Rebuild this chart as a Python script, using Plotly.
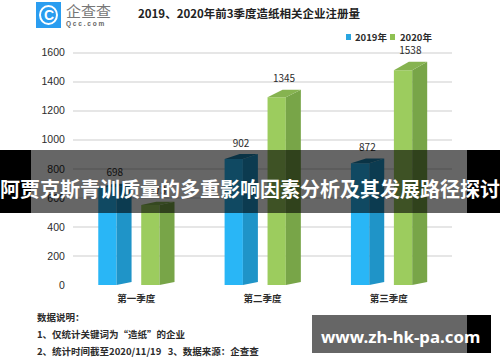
import plotly.graph_objects as go

quarters = ["第一季度", "第二季度", "第三季度"]
values_2019 = [698, 902, 872]
values_2020 = [573, 1345, 1538]
series_names = ["2019年", "2020年"]
y_ticks = [0, 200, 400, 600, 800, 1000, 1200, 1400, 1600]

W, H = 500, 362
CJK = "Noto Sans CJK SC"
INK = "#2b2b2b"
Y_MAX = 1700           # head room so the 1538 label stays inside the axis range
PX0, PX1, PY0 = 73, 452, 285
PY1 = PY0 - (PY0 - 52.7) * Y_MAX / 1600
UNIT = (PX1 - PX0) / 3
BAR_W = 18.3 / UNIT
DEPTH_X = 15 / UNIT
FRONT = 0.962          # front face sits lower than the labelled back edge (3D projection)
FOOT = 20              # back foot of the side face, in value units


def px(x):
    return x / W


def py(y):
    return 1 - y / H


def poly(xs, ys, color):
    return go.Scatter(x=xs, y=ys, mode="lines", fill="toself", fillcolor=color,
                      line=dict(width=0, color=color), hoverinfo="skip", showlegend=False)


fig = go.Figure()
styles = [
    (values_2019, -0.30, "#29b6f6", "#1f94c8", "#1b80ad"),
    (values_2020, 0.04, "#9ccc5e", "#78a548", "#86b350"),
]
for (vals, off, front, side, top), name in zip(styles, series_names):
    for i, v in enumerate(vals):
        x0 = i + off
        x1 = x0 + BAR_W
        f = v * FRONT
        fig.add_trace(poly([x1, x1, x1 + DEPTH_X, x1 + DEPTH_X, x1], [0, f, v, FOOT, 0], side))
        fig.add_trace(poly([x0, x1, x1 + DEPTH_X, x0 + DEPTH_X, x0], [f, f, v, v, f], top))
    fig.add_trace(go.Bar(x=list(range(3)), y=[v * FRONT for v in vals], width=BAR_W,
                         offset=off, marker=dict(color=front, line=dict(width=0)),
                         name=name, showlegend=False, hoverinfo="skip"))
    fig.add_trace(go.Scatter(x=[i + off + BAR_W * 0.9 for i in range(3)],
                             y=[v + 68 for v in vals], mode="text",
                             text=[str(v) for v in vals], cliponaxis=False,
                             textfont=dict(family=CJK, size=10, color=INK),
                             hoverinfo="skip", showlegend=False))

shapes = []


def rect(x0, y0, x1, y1, color):
    shapes.append(dict(type="rect", xref="paper", yref="paper", layer="above",
                       x0=px(x0), x1=px(x1), y0=py(y1), y1=py(y0),
                       fillcolor=color, line=dict(width=0)))


# logo
rect(36, 2, 61, 28, "#2a9df0")
shapes.append(dict(type="circle", xref="paper", yref="paper", layer="above",
                   x0=px(40), x1=px(57), y0=py(24), y1=py(6),
                   fillcolor="rgba(0,0,0,0)", line=dict(color="white", width=2)))
# legend
rect(346, 34, 351, 40, "#29a5e0")
rect(390, 34, 395, 40, "#8fc152")
# banner
rect(0, 150, 500, 213, "rgba(0,0,0,0.6)")
rect(0, 150, 31, 213, "#000000")
rect(467, 150, 500, 213, "#000000")
# url tag
rect(312, 315, 467, 353, "#666666")
rect(467, 315, 491, 353, "#000000")


def note(x, y, text, size, color=INK, anchor="left", family=CJK, bold=False):
    if bold:
        text = "<b>" + text + "</b>"
    return dict(xref="paper", yref="paper", x=px(x), y=py(y), text=text, showarrow=False,
                xanchor=anchor, yanchor="middle", font=dict(family=family, size=size, color=color))


annotations = [
    note(48.5, 15, "C", 14, "white", "center", "Liberation Sans", True),
    note(64, 10.5, "企查查", 15, "#777777"),
    note(64, 24, "Q c c . c o m", 6.5, "#666666", family="Liberation Sans", bold=True),
    note(249, 13, "2019、2020年前3季度造纸相关企业注册量", 11.5, "#222222", "center", bold=True),
    note(353, 37.5, series_names[0], 9.5, INK, bold=True),
    note(398, 37.5, series_names[1], 9.5, INK, bold=True),
    note(34.5, 317, "数据说明\uff1a", 9.5, INK, bold=True),
    note(34.5, 334, "1、仅统计关键词为“造纸”的企业", 9.5, INK, bold=True),
    note(34.5, 351, "2、统计时间截至2020/11/19\u00a0\u00a0\u00a03、数据来源\uff1a企查查", 9.5, INK, bold=True),
    note(250, 188, "阿贾克斯青训质量的多重影响因素分析及其发展路径探讨", 20, "white", "center", bold=True),
    note(400.5, 336, "www.zh-hk-pa.com", 16.8, "white", "center", "Noto Sans", True),
]

fig.update_layout(
    width=W, height=H, margin=dict(l=0, r=0, t=0, b=0),
    paper_bgcolor="white", plot_bgcolor="white", showlegend=False,
    barmode="overlay", shapes=shapes, annotations=annotations,
    xaxis=dict(domain=[px(PX0), px(PX1)], range=[-0.5, 2.5], tickmode="array",
               tickvals=[0, 1, 2], ticktext=["<b>" + q + "</b>" for q in quarters],
               showgrid=False, zeroline=False, showline=False, automargin=False,
               ticks="outside", ticklen=5, tickcolor="rgba(0,0,0,0)",
               tickfont=dict(family=CJK, size=9.5, color=INK)),
    yaxis=dict(domain=[py(PY0), py(PY1)], range=[0, Y_MAX], tickmode="array",
               tickvals=y_ticks, gridcolor="#e6e6e6", gridwidth=1.5, zeroline=False,
               showline=False, automargin=False, ticks="outside", ticklen=5, tickcolor="rgba(0,0,0,0)",
               tickfont=dict(family="Liberation Sans", size=10.5, color=INK)),
)

fig.write_html("out.html", config=dict(displayModeBar=False),
               post_script="document.body.style.margin='0';document.body.style.overflow='hidden';")
